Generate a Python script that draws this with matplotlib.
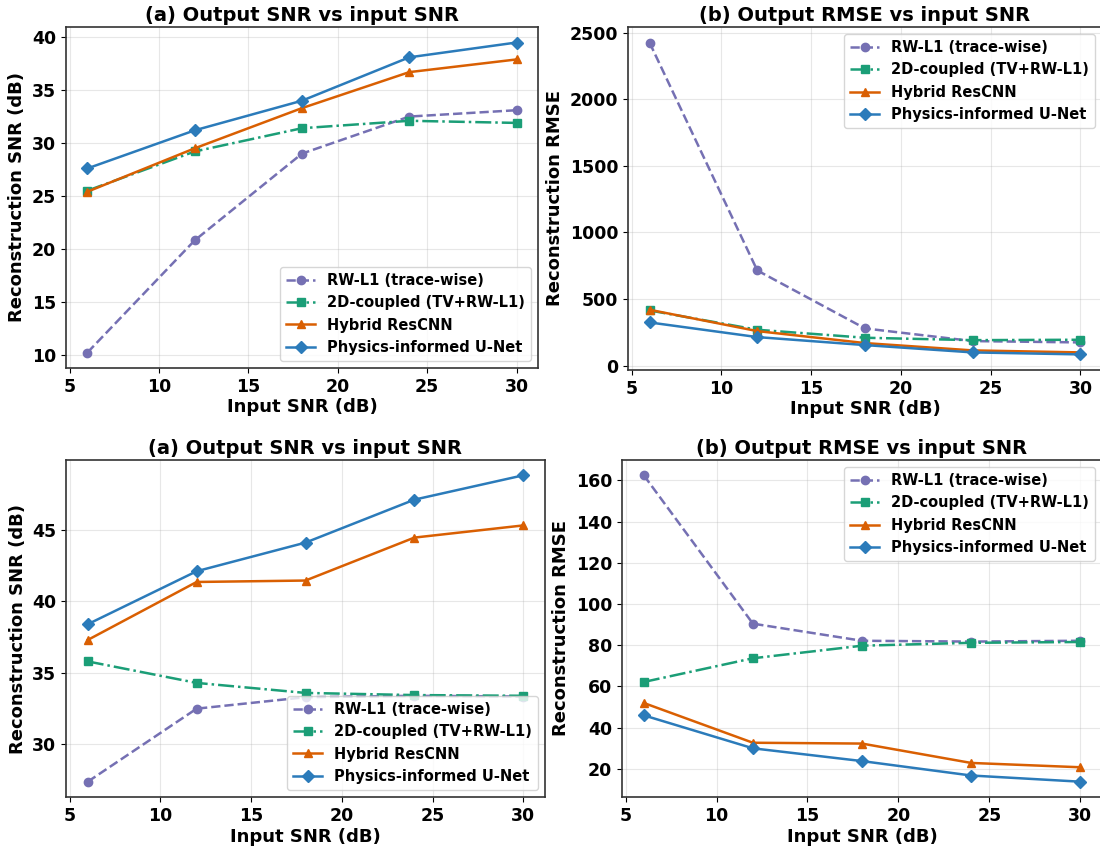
"""Output SNR and RMSE vs input SNR for four reconstruction methods, two cases."""

import matplotlib.pyplot as plt

input_snr = [6, 12, 18, 24, 30]

methods = ["RW-L1 (trace-wise)", "2D-coupled (TV+RW-L1)",
           "Hybrid ResCNN", "Physics-informed U-Net"]

# Case 1 (top row).
snr_top = {
    "RW-L1 (trace-wise)": [10.2, 20.8, 29.0, 32.5, 33.1],
    "2D-coupled (TV+RW-L1)": [25.5, 29.2, 31.4, 32.1, 31.9],
    "Hybrid ResCNN": [25.4, 29.5, 33.3, 36.7, 37.9],
    "Physics-informed U-Net": [27.6, 31.2, 34.0, 38.1, 39.5],
}
rmse_top = {
    "RW-L1 (trace-wise)": [2425, 715, 280, 185, 175],
    "2D-coupled (TV+RW-L1)": [415, 270, 210, 192, 195],
    "Hybrid ResCNN": [420, 260, 170, 115, 100],
    "Physics-informed U-Net": [325, 215, 155, 100, 85],
}

# Case 2 (bottom row).
snr_bottom = {
    "RW-L1 (trace-wise)": [27.4, 32.5, 33.3, 33.4, 33.35],
    "2D-coupled (TV+RW-L1)": [35.8, 34.3, 33.6, 33.45, 33.4],
    "Hybrid ResCNN": [37.3, 41.35, 41.45, 44.45, 45.3],
    "Physics-informed U-Net": [38.4, 42.1, 44.1, 47.1, 48.8],
}
rmse_bottom = {
    "RW-L1 (trace-wise)": [162.5, 90.5, 82.2, 81.8, 82.2],
    "2D-coupled (TV+RW-L1)": [62.2, 73.7, 79.8, 81.2, 81.6],
    "Hybrid ResCNN": [52.0, 32.7, 32.3, 22.9, 20.8],
    "Physics-informed U-Net": [46.0, 30.0, 23.8, 16.8, 13.8],
}

styles = {
    "RW-L1 (trace-wise)": dict(color="#7570b3", ls="--", marker="o"),
    "2D-coupled (TV+RW-L1)": dict(color="#1b9e77", ls="-.", marker="s"),
    "Hybrid ResCNN": dict(color="#d95f02", ls="-", marker="^"),
    "Physics-informed U-Net": dict(color="#2b7bba", ls="-", marker="D"),
}

plt.rcParams["font.family"] = ["DejaVu Sans"]
plt.rcParams["font.weight"] = "bold"
plt.rcParams["axes.labelweight"] = "bold"
plt.rcParams["axes.titleweight"] = "bold"

W, H = 1100, 852
fig = plt.figure(figsize=(W / 100, H / 100), dpi=100)


def add_ax(x0, y0, x1, y1):
    return fig.add_axes([x0 / W, 1 - y1 / H, (x1 - x0) / W, (y1 - y0) / H])


panels = [
    (add_ax(66, 27, 538, 368), snr_top, "(a) Output SNR vs input SNR",
     "Reconstruction SNR (dB)", "lower right"),
    (add_ax(628, 27, 1102, 370), rmse_top, "(b) Output RMSE vs input SNR",
     "Reconstruction RMSE", "upper right"),
    (add_ax(66, 460, 545, 797), snr_bottom, "(a) Output SNR vs input SNR",
     "Reconstruction SNR (dB)", "lower right"),
    (add_ax(622, 460, 1102, 797), rmse_bottom, "(b) Output RMSE vs input SNR",
     "Reconstruction RMSE", "upper right"),
]

for ax, data, title, ylabel, loc in panels:
    for m in methods:
        ax.plot(input_snr, data[m], label=m, lw=1.8, ms=6, **styles[m])
    ax.set_title(title, fontsize=14, pad=4)
    ax.set_xlabel("Input SNR (dB)", fontsize=13, labelpad=2)
    ax.set_ylabel(ylabel, fontsize=13)
    ax.set_xticks([5, 10, 15, 20, 25, 30])
    ax.tick_params(labelsize=12.5)
    ax.grid(True, alpha=0.3)
    for s in ax.spines.values():
        s.set_color("#333333")
        s.set_linewidth(1.2)
    ax.legend(loc=loc, fontsize=10.5)

fig.savefig("out.png", dpi=100)
